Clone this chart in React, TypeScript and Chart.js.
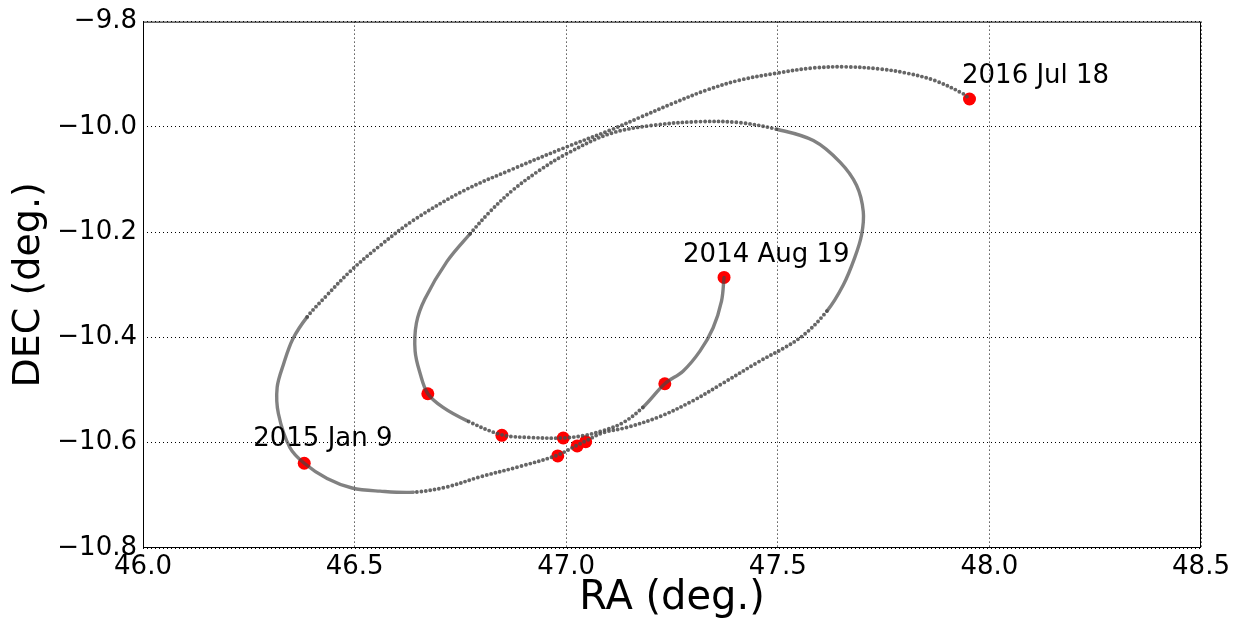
import React, { useEffect, useRef } from 'react';
import { Chart, registerables } from 'chart.js';

Chart.register(...registerables);

// Model track (RA, DEC in degrees), read along the plotted path in time order
const TRACK_RA = [
  47.373, 47.367, 47.347, 47.316, 47.276, 47.233, 47.181, 47.134, 47.087, 47.044,
  46.992, 46.914, 46.848, 46.765, 46.709, 46.673, 46.655, 46.643, 46.646, 46.666,
  46.718, 46.773, 46.820, 46.874, 46.938, 47.001, 47.103, 47.205, 47.316, 47.411,
  47.500, 47.584, 47.647, 47.686, 47.702, 47.698, 47.682, 47.655, 47.616, 47.552,
  47.451, 47.368, 47.300, 47.222, 47.143, 47.087, 47.048, 47.025, 46.978, 46.891,
  46.796, 46.718, 46.639, 46.560, 46.494, 46.435, 46.381, 46.347, 46.320, 46.317,
  46.332, 46.354, 46.388, 46.432, 46.494, 46.558, 46.638, 46.756, 46.874, 47.001,
  47.111, 47.174, 47.253, 47.332, 47.411, 47.497, 47.584, 47.663, 47.742, 47.805,
  47.871, 47.938, 47.953,
];
const TRACK_DEC = [
  -10.286, -10.331, -10.382, -10.426, -10.464, -10.488, -10.533, -10.562, -10.577, -10.586,
  -10.591, -10.590, -10.585, -10.558, -10.533, -10.507, -10.469, -10.426, -10.373, -10.327,
  -10.256, -10.203, -10.161, -10.120, -10.082, -10.051, -10.013, -9.997, -9.990, -9.992,
  -10.005, -10.026, -10.067, -10.111, -10.161, -10.205, -10.248, -10.300, -10.350, -10.401,
  -10.448, -10.488, -10.520, -10.550, -10.571, -10.581, -10.596, -10.605, -10.624, -10.645,
  -10.665, -10.684, -10.694, -10.692, -10.686, -10.668, -10.639, -10.609, -10.545, -10.495,
  -10.451, -10.403, -10.361, -10.322, -10.271, -10.227, -10.178, -10.122, -10.080, -10.038,
  -10.004, -9.982, -9.955, -9.930, -9.911, -9.898, -9.888, -9.886, -9.890, -9.898,
  -9.912, -9.937, -9.947,
];

// Observations (red points)
const OBS_RA = [47.373, 47.233, 46.673, 46.848, 46.993, 46.980, 47.026, 47.046, 46.381, 47.953];
const OBS_DEC = [-10.286, -10.488, -10.507, -10.586, -10.591, -10.625, -10.606, -10.598, -10.639, -9.947];

const DATE_LABELS = ['2014 Aug 19', '2015 Jan 9', '2016 Jul 18'];
const DATE_LABEL_OBS = [0, 8, 9];

const X_TICKS = [46.0, 46.5, 47.0, 47.5, 48.0, 48.5];
const Y_TICKS = [-10.8, -10.6, -10.4, -10.2, -10.0, -9.8];
const X_TITLE = 'RA (deg.)';
const Y_TITLE = 'DEC (deg.)';

const FONT = "'DejaVu Sans', 'Liberation Sans', sans-serif";

export default function App() {
  const ref = useRef<HTMLCanvasElement>(null);

  useEffect(() => {
    const canvas = ref.current;
    if (!canvas) return;
    const fmt = (v: number) => Number(v).toFixed(1).replace('-', '\u2212');
    const dense = (i: number) =>
      i < 6 || (i >= 13 && i < 21) || (i >= 30 && i < 38) || (i >= 52 && i < 62);

    const framePlugin = {
      id: 'frame',
      afterDraw(chart: any) {
        const { ctx, chartArea: a } = chart;
        ctx.save();
        ctx.setLineDash([]);
        ctx.strokeStyle = '#000';
        ctx.lineWidth = 1;
        ctx.strokeRect(a.left + 0.5, a.top + 0.5, a.right - a.left - 1, a.bottom - a.top - 1);
        ctx.restore();
      },
    };

    const offsets = [
      [-41, -15],
      [-51, -17],
      [-7.5, -16],
    ];
    const labelPlugin = {
      id: 'dateLabels',
      afterDatasetsDraw(chart: any) {
        const { ctx } = chart;
        const xs = chart.scales.x;
        const ys = chart.scales.y;
        ctx.save();
        ctx.font = `26px ${FONT}`;
        ctx.fillStyle = '#000';
        ctx.textAlign = 'left';
        ctx.textBaseline = 'alphabetic';
        DATE_LABELS.forEach((t, k) => {
          const j = DATE_LABEL_OBS[k];
          const px = xs.getPixelForValue(OBS_RA[j]);
          const py = ys.getPixelForValue(OBS_DEC[j]);
          ctx.fillText(t, px + offsets[k][0], py + offsets[k][1]);
        });
        ctx.restore();
      },
    };

    const chart = new Chart(canvas, {
      type: 'scatter',
      data: {
        datasets: [
          {
            data: TRACK_RA.map((x, i) => ({ x, y: TRACK_DEC[i] })),
            showLine: true,
            pointRadius: 0,
            borderColor: 'rgba(70,70,70,0.68)',
            borderWidth: 3.4,
            borderCapStyle: 'round',
            borderJoinStyle: 'round',
            tension: 0.35,
            order: 0,
            segment: {
              borderDash: (c: any) => (dense(c.p0DataIndex) ? undefined : [0, 4.5]),
              borderColor: (c: any) =>
                dense(c.p0DataIndex) ? undefined : 'rgba(75,75,75,0.85)',
              borderWidth: (c: any) => (dense(c.p0DataIndex) ? undefined : 3.9),
            },
          } as any,
          {
            data: OBS_RA.map((x, i) => ({ x, y: OBS_DEC[i] })),
            showLine: false,
            pointRadius: 6.5,
            pointHoverRadius: 6.5,
            pointBackgroundColor: '#ff0000',
            pointBorderWidth: 0,
            order: 1,
          } as any,
        ],
      },
      options: {
        animation: false,
        responsive: true,
        maintainAspectRatio: false,
        layout: { padding: { left: 10, top: 19, right: 34, bottom: 0 } },
        plugins: { legend: { display: false }, tooltip: { enabled: false } },
        scales: {
          x: {
            type: 'linear',
            min: 46,
            max: 48.5,
            afterBuildTicks: (s: any) => {
              s.ticks = X_TICKS.map((v) => ({ value: v }));
            },
            afterFit: (s: any) => {
              s.height = 71;
            },
            ticks: {
              callback: (v: any) => fmt(v),
              font: { size: 26, family: FONT },
              color: '#000',
              padding: 4,
              maxRotation: 0,
              autoSkip: false,
            },
            grid: { color: '#000', lineWidth: 1, drawTicks: false },
            border: { display: false, dash: [1, 3] },
            title: {
              display: true,
              text: X_TITLE,
              font: { size: 40, family: FONT, lineHeight: 1 },
              color: '#000',
              padding: 0,
            },
          },
          y: {
            type: 'linear',
            min: -10.8,
            max: -9.8,
            afterBuildTicks: (s: any) => {
              s.ticks = Y_TICKS.map((v) => ({ value: v }));
            },
            afterFit: (s: any) => {
              s.width = 133;
            },
            ticks: {
              callback: (v: any) => fmt(v),
              font: { size: 26, family: FONT },
              color: '#000',
              padding: 6,
              autoSkip: false,
            },
            grid: { color: '#000', lineWidth: 1, drawTicks: false },
            border: { display: false, dash: [1, 3] },
            title: {
              display: true,
              text: Y_TITLE,
              font: { size: 38, family: FONT, lineHeight: 1 },
              color: '#000',
              padding: 0,
            },
          },
        },
      } as any,
      plugins: [framePlugin, labelPlugin],
    });

    return () => chart.destroy();
  }, []);

  return (
    <div style={{ position: 'fixed', left: 0, top: 0, width: 1235, height: 619, background: '#fff' }}>
      <canvas ref={ref} />
    </div>
  );
}
